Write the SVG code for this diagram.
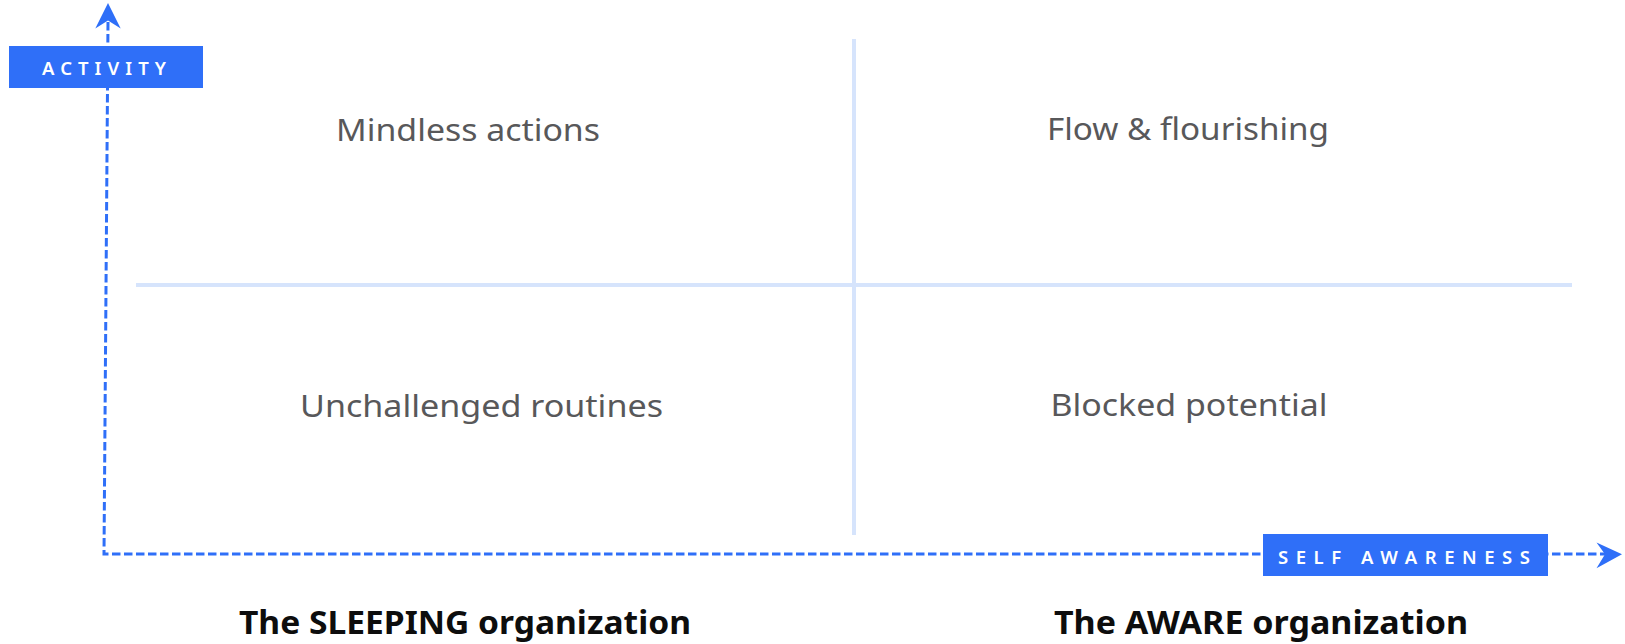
<svg xmlns="http://www.w3.org/2000/svg" width="1625" height="644" viewBox="0 0 1625 644">
<style>
.grid{stroke:#d6e4fc;stroke-width:4;fill:none}
.axis{stroke:#2f6ff8;stroke-width:3;stroke-dasharray:8.5 3.5;fill:none}
.head{fill:#2f6ff8}
.box{fill:#2f6ff8}
.lbl{font-family:"Noto Sans","Liberation Sans",sans-serif;font-size:18.5px;font-weight:600;fill:#ffffff;letter-spacing:6px}
.quad{font-family:"Noto Sans","Liberation Sans",sans-serif;font-size:31px;fill:#58585a;text-anchor:middle}
.org{font-family:"Noto Sans","Liberation Sans",sans-serif;font-size:32px;font-weight:700;fill:#0d0d0d;text-anchor:middle}
</style>
<rect width="1625" height="644" fill="#ffffff"/>
<g id="grid">
<line class="grid" x1="854" y1="39" x2="854" y2="535"/>
<line class="grid" x1="136" y1="285" x2="1572" y2="285"/>
</g>
<g id="connectors">
<path class="axis" d="M108 22 L104 554 L1608 554"/>
<path class="head" d="M108 3 L120.7 28.5 L108 20.5 L95.3 28.5 Z"/>
<path class="head" d="M1622 554.3 L1596.5 542.5 L1605 554.3 L1596.5 568.3 Z"/>
</g>
<g id="activity">
<rect class="box" x="9" y="46" width="194" height="42"/>
<text class="lbl" x="42" y="74.5" textLength="130">ACTIVITY</text>
</g>
<g id="self-awareness">
<rect class="box" x="1263" y="534" width="285" height="42"/>
<text class="lbl" x="1278" y="563.5" textLength="258">SELF AWARENESS</text>
</g>
<g id="mindless-actions">
<text class="quad" x="468" y="140.5" textLength="264" lengthAdjust="spacingAndGlyphs">Mindless actions</text>
</g>
<g id="flow-flourishing">
<text class="quad" x="1188" y="139.5" textLength="282" lengthAdjust="spacingAndGlyphs">Flow &amp; flourishing</text>
</g>
<g id="unchallenged-routines">
<text class="quad" x="481.5" y="416.5" textLength="363" lengthAdjust="spacingAndGlyphs">Unchallenged routines</text>
</g>
<g id="blocked-potential">
<text class="quad" x="1189" y="415.5" textLength="277" lengthAdjust="spacingAndGlyphs">Blocked potential</text>
</g>
<g id="sleeping-org">
<text class="org" x="465" y="634" textLength="452" lengthAdjust="spacingAndGlyphs">The SLEEPING organization</text>
</g>
<g id="aware-org">
<text class="org" x="1261" y="634" textLength="414" lengthAdjust="spacingAndGlyphs">The AWARE organization</text>
</g>
</svg>
